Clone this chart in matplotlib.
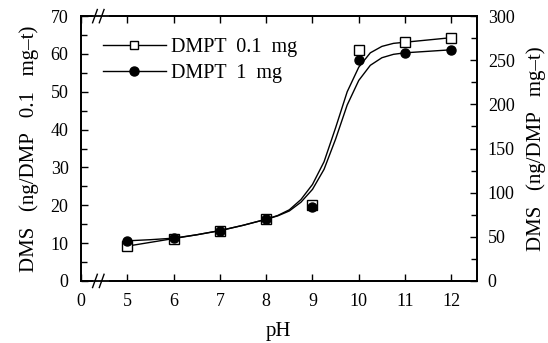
import numpy as np
import matplotlib
matplotlib.use("Agg")
from matplotlib import pyplot as plt

plt.rcParams["font.family"] = ["Liberation Serif", "DejaVu Serif"]

# measured points
ph = [5, 6, 7, 8, 9, 10, 11, 12]
dms_01 = [9.2, 11.2, 13.3, 16.3, 20.2, 61.1, 63.1, 64.3]
dms_1 = [10.6, 11.3, 13.3, 16.3, 19.5, 58.3, 60.3, 61.1]

# fitted curves
curve_ph = [5, 5.5, 6, 6.5, 7, 7.5, 8, 8.25, 8.5, 8.75, 9.0, 9.25, 9.5,
            9.75, 10.0, 10.25, 10.5, 10.75, 11, 11.5, 12]
curve_01 = [9.2, 10.2, 11.2, 12.2, 13.3, 14.7, 16.3, 17.3, 18.8, 21.5, 25.5,
            31.5, 40.5, 50.0, 56.5, 60.3, 62.0, 62.8, 63.1, 63.7, 64.3]
curve_1 = [10.6, 10.9, 11.3, 12.2, 13.3, 14.7, 16.3, 17.2, 18.5, 20.8, 24.2,
           29.5, 37.5, 46.5, 53.0, 57.0, 59.0, 59.9, 60.3, 60.7, 61.1]

xticks = [4, 5, 6, 7, 8, 9, 10, 11, 12]
xticklabels = ["0", "5", "6", "7", "8", "9", "10", "11", "12"]

fig = plt.figure(figsize=(5.48, 3.43), dpi=100)
ax = fig.add_axes([0.148, 0.181, 0.722, 0.772])

ax.plot(curve_ph, curve_01, color="black", lw=1.0)
ax.plot(curve_ph, curve_1, color="black", lw=1.0)
ax.plot(ph, dms_01, ls="none", marker="s", ms=6.5, mfc="white", mec="black", mew=1.0)
ax.plot(ph, dms_1, ls="none", marker="o", ms=6.5, mfc="black", mec="black")

# legend handles
ax.plot([], [], color="black", lw=1.0, marker="s", ms=5.5, mfc="white", mec="black",
        label="DMPT  0.1  mg")
ax.plot([], [], color="black", lw=1.0, marker="o", ms=6.5, mfc="black",
        label="DMPT  1  mg")
ax.legend(loc="upper left", bbox_to_anchor=(0.01, 0.985), frameon=False,
          fontsize=14.5, handlelength=3.1, handletextpad=0.25, labelspacing=0.35)

ax.set_xlim(4.05, 12.55)
ax.set_ylim(0, 70)
ax.set_xticks(xticks)
ax.set_xticklabels(xticklabels)
ax.set_yticks(np.arange(0, 71, 10))
ax.set_yticks(np.arange(5, 70, 10), minor=True)
ax.tick_params(axis="both", direction="in", labelsize=13, length=5, width=1.0)
ax.tick_params(axis="x", top=True, pad=9)
ax.tick_params(axis="y", pad=9)
ax.tick_params(axis="y", which="minor", direction="in", length=4, width=1.0)
ax.set_xlabel("pH", fontsize=15, labelpad=8)
ax.set_ylabel("DMS   (ng/DMP   0.1   mg\u2013t)", fontsize=15, labelpad=8)

ax2 = ax.twinx()
ax2.set_ylim(0, 300)
ax2.set_yticks(np.arange(0, 301, 50))
ax2.set_yticks(np.arange(25, 300, 50), minor=True)
ax2.tick_params(axis="y", direction="in", labelsize=13, length=5, width=1.0, pad=8)
ax2.tick_params(axis="y", which="minor", direction="in", length=4, width=1.0)
ax2.set_ylabel("DMS   (ng/DMP   mg\u2013t)", fontsize=15, rotation=90, labelpad=8)

for a in (ax, ax2):
    for s in a.spines.values():
        s.set_linewidth(1.3)

# axis break marks
for yb in (0, 1):
    ax.plot([0.035, 0.065], [yb, yb], transform=ax.transAxes, color="white",
            lw=3, clip_on=False, zorder=5)
    for xb in (0.035, 0.052):
        ax.plot([xb - 0.006, xb + 0.006], [yb - 0.025, yb + 0.025],
                transform=ax.transAxes, color="black", lw=1.0, clip_on=False, zorder=6)

fig.savefig("out.png", dpi=100)
